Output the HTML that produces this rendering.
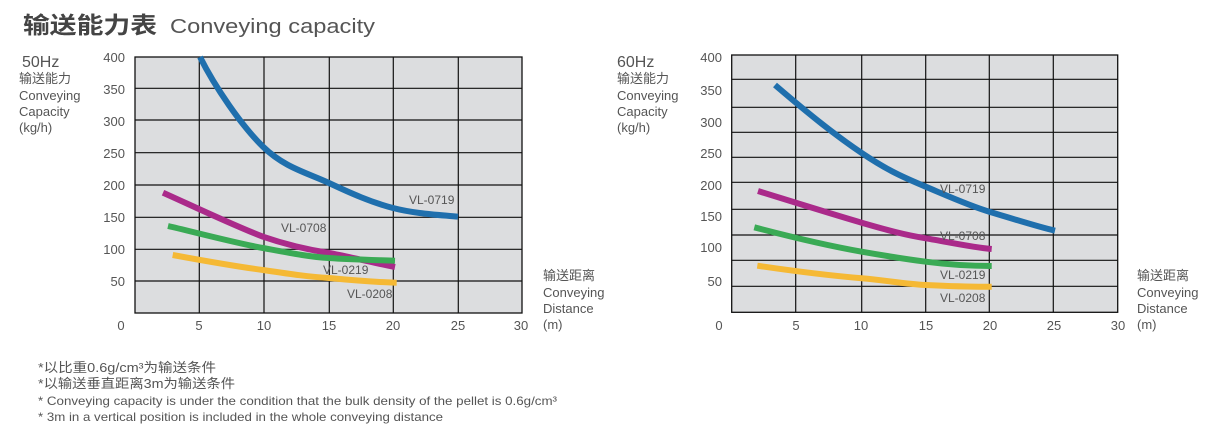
<!DOCTYPE html>
<html><head><meta charset="utf-8"><style>
html,body{margin:0;padding:0;background:#fff;}
svg text{font-family:"Liberation Sans","Noto Sans CJK SC",sans-serif;fill:#555;}
</style></head><body>
<svg width="1226" height="436" xmlns="http://www.w3.org/2000/svg">
<text x="23" y="33" font-size="23" font-weight="bold" fill="#444" textLength="134" lengthAdjust="spacingAndGlyphs" style="fill:#444">输送能力表</text>
<text x="170" y="33" font-size="20" textLength="205" lengthAdjust="spacingAndGlyphs">Conveying capacity</text>

<!-- Left chart -->
<g font-size="13">
<text x="22" y="67" font-size="16">50Hz</text>
<text x="19" y="83">输送能力</text>
<text x="19" y="100">Conveying</text>
<text x="19" y="116">Capacity</text>
<text x="19" y="132">(kg/h)</text>
</g>
<rect x="135" y="57" width="387" height="256" fill="#dcdddf" stroke="#111" stroke-width="1.3"/>
<g stroke="#111" stroke-width="1.2">
<line x1="199.3" y1="57" x2="199.3" y2="313"/><line x1="264" y1="57" x2="264" y2="313"/><line x1="329.3" y1="57" x2="329.3" y2="313"/><line x1="393.3" y1="57" x2="393.3" y2="313"/><line x1="458.3" y1="57" x2="458.3" y2="313"/>
<line x1="135" y1="88.3" x2="522" y2="88.3"/><line x1="135" y1="120" x2="522" y2="120"/><line x1="135" y1="152.7" x2="522" y2="152.7"/><line x1="135" y1="185" x2="522" y2="185"/><line x1="135" y1="217.3" x2="522" y2="217.3"/><line x1="135" y1="249.3" x2="522" y2="249.3"/><line x1="135" y1="281" x2="522" y2="281"/>
</g>
<g font-size="13" text-anchor="end">
<text x="125" y="62">400</text><text x="125" y="94">350</text><text x="125" y="126">300</text><text x="125" y="158">250</text><text x="125" y="190">200</text><text x="125" y="222">150</text><text x="125" y="254">100</text><text x="125" y="286">50</text>
</g>
<g font-size="13" text-anchor="middle">
<text x="121" y="330">0</text><text x="199" y="330">5</text><text x="264" y="330">10</text><text x="329" y="330">15</text><text x="393" y="330">20</text><text x="458" y="330">25</text><text x="521" y="330">30</text>
</g>
<g fill="none" stroke-width="6">
<path d="M200,57 C215,87 241.5,125.7 263,146.7 C284.5,167.7 307.3,172.8 329,183 C350.7,193.2 371.5,202.4 393,208 C414.5,213.6 437,214.7 458,216.7" stroke="#1f6fad"/>
<path d="M163,192.7 C180,200 230,224 263,236.7 C290,246 310,250 329,253 C350,257 375,263 395,267" stroke="#aa2a8a"/>
<path d="M168,226 C190,231 235,243 263,248 C290,253 310,257 329,258 C350,259.5 375,260 395,260.7" stroke="#3aaa55"/>
<path d="M172.7,255 C200,260 240,267 263,270 C290,274 310,277 329,278 C350,280 375,282 396.7,282.7" stroke="#f5b935"/>
</g>
<g font-size="12">
<text x="409" y="204">VL-0719</text><text x="281" y="232">VL-0708</text><text x="323" y="274">VL-0219</text><text x="347" y="298">VL-0208</text>
</g>
<g font-size="13">
<text x="543" y="280">输送距离</text><text x="543" y="297">Conveying</text><text x="543" y="313">Distance</text><text x="543" y="329">(m)</text>
</g>

<!-- Right chart -->
<g font-size="13">
<text x="617" y="67" font-size="16">60Hz</text>
<text x="617" y="83">输送能力</text>
<text x="617" y="100">Conveying</text>
<text x="617" y="116">Capacity</text>
<text x="617" y="132">(kg/h)</text>
</g>
<rect x="731.7" y="55" width="386" height="257.3" fill="#dcdddf" stroke="#111" stroke-width="1.3"/>
<g stroke="#111" stroke-width="1.2">
<line x1="795.7" y1="55" x2="795.7" y2="312"/><line x1="861.7" y1="55" x2="861.7" y2="312"/><line x1="925.7" y1="55" x2="925.7" y2="312"/><line x1="989.3" y1="55" x2="989.3" y2="312"/><line x1="1053.3" y1="55" x2="1053.3" y2="312"/>
<line x1="731.7" y1="79.3" x2="1117.7" y2="79.3"/><line x1="731.7" y1="107.3" x2="1117.7" y2="107.3"/><line x1="731.7" y1="132.3" x2="1117.7" y2="132.3"/><line x1="731.7" y1="157.3" x2="1117.7" y2="157.3"/><line x1="731.7" y1="182.3" x2="1117.7" y2="182.3"/><line x1="731.7" y1="209.3" x2="1117.7" y2="209.3"/><line x1="731.7" y1="235" x2="1117.7" y2="235"/><line x1="731.7" y1="260.3" x2="1117.7" y2="260.3"/><line x1="731.7" y1="286.3" x2="1117.7" y2="286.3"/>
</g>
<g font-size="13" text-anchor="end">
<text x="722" y="62">400</text><text x="722" y="95">350</text><text x="722" y="127">300</text><text x="722" y="158">250</text><text x="722" y="190">200</text><text x="722" y="221">150</text><text x="722" y="252">100</text><text x="722" y="286">50</text>
</g>
<g font-size="13" text-anchor="middle">
<text x="719" y="330">0</text><text x="796" y="330">5</text><text x="861" y="330">10</text><text x="926" y="330">15</text><text x="990" y="330">20</text><text x="1054" y="330">25</text><text x="1118" y="330">30</text>
</g>
<g fill="none" stroke-width="6">
<path d="M775,85 C810,115 835,135 861.7,153 S905,178 925.7,186.7 S970,206 989.3,211.7 S1035,226 1055,230.7" stroke="#1f6fad"/>
<path d="M758,191 C800,204 835,215 861.7,222.7 S905,235 925.7,238.3 S970,247 991.7,249" stroke="#aa2a8a"/>
<path d="M754.3,227.3 C795,238 835,247 861.7,251.7 S905,259 925.7,261.7 S970,266 991.7,266" stroke="#3aaa55"/>
<path d="M757.3,265.7 C800,272 835,276 861.7,278.3 S905,284 925.7,285 S970,287 991.7,286.7" stroke="#f5b935"/>
</g>
<g font-size="12">
<text x="940" y="193">VL-0719</text><text x="940" y="240">VL-0708</text><text x="940" y="279">VL-0219</text><text x="940" y="302">VL-0208</text>
</g>
<g font-size="13">
<text x="1137" y="280">输送距离</text><text x="1137" y="297">Conveying</text><text x="1137" y="313">Distance</text><text x="1137" y="329">(m)</text>
</g>

<!-- Footnotes -->
<text x="38" y="372" font-size="13" textLength="178" lengthAdjust="spacingAndGlyphs">*以比重0.6g/cm³为输送条件</text>
<text x="38" y="388" font-size="13" textLength="197" lengthAdjust="spacingAndGlyphs">*以输送垂直距离3m为输送条件</text>
<text x="38" y="405" font-size="12" textLength="519" lengthAdjust="spacingAndGlyphs">* Conveying capacity is under the condition that the bulk density of the pellet is 0.6g/cm³</text>
<text x="38" y="421" font-size="12" textLength="405" lengthAdjust="spacingAndGlyphs">* 3m in a vertical position is included in the whole conveying distance</text>
</svg>
</body></html>
